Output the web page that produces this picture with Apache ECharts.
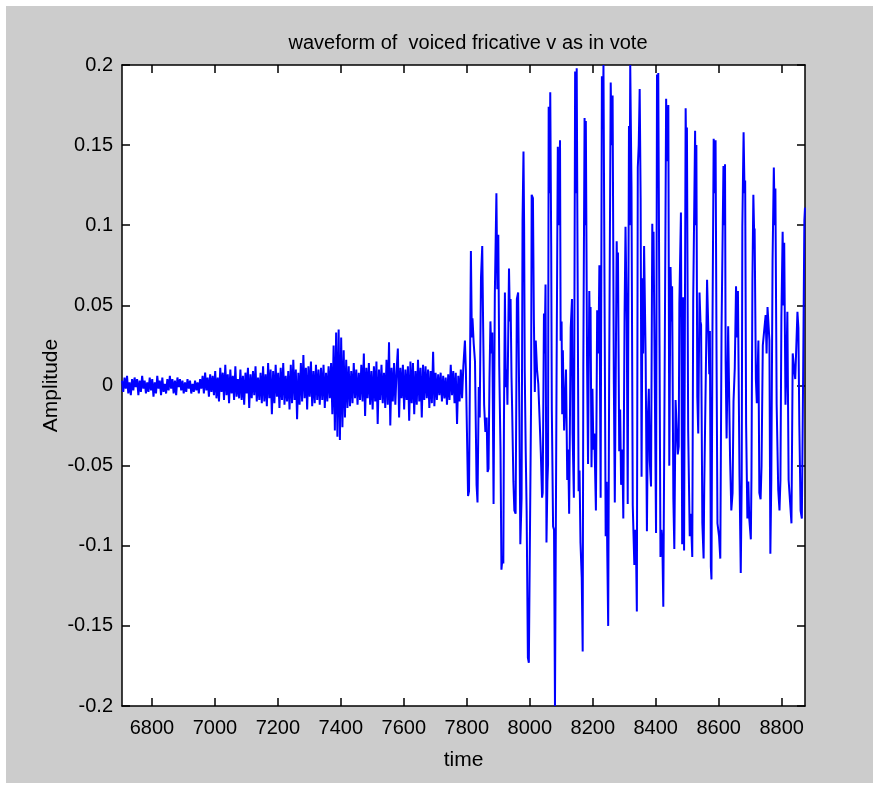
<!DOCTYPE html>
<html>
<head>
<meta charset="utf-8">
<script src="https://cdn.jsdelivr.net/npm/echarts@6/dist/echarts.min.js"></script>
<style>
  html, body { margin: 0; padding: 0; background: #ffffff; }
  #frame { position: absolute; left: 6px; top: 6px; width: 867px; height: 777px; background: #cccccc; }
  #chart { width: 867px; height: 777px; }
</style>
</head>
<body>
<div id="frame"><div id="chart"></div></div>
<script>
// Axis ranges and tick labels
const xRange = [6705, 8874];
const xTicks = [6800, 7000, 7200, 7400, 7600, 7800, 8000, 8200, 8400, 8600, 8800];
const yRange = [-0.2, 0.2];
const yStep = 0.05;

// Unvoiced (fricative noise) part: samples every 4 time units from noiseStart, in thousandths
const noiseStart = 6705;
const noiseStep = 4;
const noiseMilli = [
  3,-4,5,-2,6,-5,2,-6,4,-3,5,-1,4,-6,3,-4,6,-2,3,-5,2,-4,
  5,-3,4,-7,2,-5,6,-2,3,-6,5,-4,1,-5,4,-3,6,-2,4,-5,3,-6,5,-1,4,
  -3,3,-5,2,-4,4,-2,3,-5,1,-4,3,-3,2,-5,4,-2,
  6,-5,8,-3,5,-7,7,-4,6,-6,
  9,-8,5,-10,11,-4,8,-9,13,-6,7,-11,10,-5,6,-9,12,-7,4,-8,
  10,-9,6,-12,8,-5,11,-14,7,-8,9,-6,12,-10,5,-9,8,-11,
  12,-10,7,-13,14,-8,10,-18,9,-11,13,-7,8,-14,11,-9,14,-12,6,-10,9,-15,
  13,-11,16,-9,10,-21,8,-12,14,-10,19,-8,11,-15,12,-7,15,-13,9,-11,13,-9,10,
  -12,11,-9,13,-14,8,-10,12,-8,14,
  -18,25,-28,33,-32,35,-34,30,-26,22,-20,16,-14,
  12,-13,9,-11,14,-8,10,-12,8,-9,
  13,-10,20,-19,11,-8,14,-12,9,-15,12,-10,15,-24,10,-9,13,-11,8,-14,16,-12,27,-25,11,
  -10,14,-12,9,23,-20,11,-8,13,-15,10,-9,12,-22,15,-11,14,-18,9,-12,16,-10,11,-20,13,-9,12,-8,10,-14,9,-11,21,-13,8,
  -9,7,-6,8,-10,6,-8,5,-12,7,-9,13,-6,9,-11,8,-24,6,-10,10,-8,12
];

// Voiced part: turning points of the waveform (time, amplitude)
const voicedTime = [
  7794,7797,7804,7807,7813,7816,7818,7822,7826,7831,7834,7838,7841,7845,7849,7852,7855,7859,7863,7866,
  7869,7872,7875,7878,7881,7885,7889,7894,7897,7900,7903,7907,7910,7913,7916,7918,7921,7924,7927,7929,
  7934,7937,7939,7942,7944,7948,7951,7955,7959,7963,7967,7970,7974,7977,7980,7982,7984,7987,7990,7994,
  7997,8001,8004,8006,8010,8013,8016,8019,8023,8027,8031,8035,8039,8041,8045,8047,8050,8053,8056,8058,
  8060,8063,8065,8068,8070,8074,8077,8080,8083,8085,8089,8092,8096,8098,8101,8103,8105,8109,8112,8115,
  8119,8122,8125,8130,8134,8136,8140,8144,8147,8149,8152,8155,8158,8161,8165,8168,8170,8174,8176,8178,
  8182,8185,8189,8191,8193,8196,8199,8202,8205,8210,8214,8218,8221,8225,8229,8232,8234,8238,8241,8244,
  8246,8249,8252,8257,8260,8263,8267,8270,8276,8278,8280,8284,8287,8290,8294,8297,8301,8304,8308,8311,
  8315,8317,8319,8323,8327,8332,8335,8337,8340,8343,8346,8349,8352,8355,8358,8360,8363,8368,8372,8375,
  8378,8381,8385,8389,8392,8393,8397,8401,8404,8407,8408,8412,8415,8418,8421,8424,8429,8433,8436,8440,
  8443,8447,8450,8452,8456,8459,8463,8467,8470,8473,8475,8480,8484,8487,8490,8495,8498,8499,8503,8508,
  8511,8512,8516,8519,8525,8527,8529,8532,8535,8539,8542,8544,8548,8552,8554,8559,8563,8567,8570,8572,
  8575,8577,8580,8584,8587,8590,8593,8596,8601,8605,8609,8615,8618,8620,8622,8625,8630,8634,8636,8640,
  8644,8647,8651,8655,8658,8661,8666,8670,8673,8675,8679,8682,8684,8687,8691,8694,8697,8702,8704,8707,
  8710,8713,8714,8718,8721,8726,8729,8733,8736,8740,8745,8749,8752,8755,8761,8764,8767,8771,8775,8778,
  8780,8784,8789,8793,8796,8799,8803,8806,8808,8812,8815,8818,8822,8827,8831,8835,8839,8843,8847,8850,
  8853,8856,8860,8864,8868,8872,8874
];
const voicedAmp = [
  0.028,0.010,-0.069,-0.066,0.084,0.030,0.042,0.026,0.015,-0.062,-0.073,-0.001,-0.020,0.067,0.087,0.035,-0.012,-0.029,-0.020,-0.054,
  -0.052,0.004,0.040,0.020,0.033,-0.074,0.057,0.120,0.060,0.094,0.012,-0.040,-0.115,-0.108,-0.111,-0.022,0.058,-0.001,0.010,-0.012,
  0.073,0.040,0.054,0.005,-0.015,-0.060,-0.078,-0.080,0.054,0.058,-0.020,-0.099,-0.070,0.103,0.146,0.100,0.009,-0.040,-0.078,-0.170,
  -0.173,-0.173,-0.013,0.119,0.117,0.041,-0.004,0.028,0.010,0.001,-0.020,-0.042,-0.070,-0.067,0.045,0.020,0.063,-0.098,-0.060,-0.049,
  0.174,0.120,0.183,0.087,-0.015,-0.088,-0.090,-0.200,-0.200,0.004,0.149,0.100,0.153,0.028,0.040,-0.018,0.022,-0.028,-0.010,0.010,
  -0.059,-0.040,-0.080,0.036,0.054,-0.030,-0.070,0.196,0.120,0.198,0.066,-0.066,-0.053,-0.098,-0.120,-0.166,0.012,0.167,0.100,0.165,
  0.012,-0.049,0.059,0.030,0.049,-0.051,-0.002,-0.040,-0.030,-0.078,0.047,0.020,0.075,-0.070,0.193,0.160,0.200,0.033,-0.094,-0.060,
  -0.103,-0.150,0.003,0.189,0.150,0.181,0.001,-0.073,0.090,0.060,0.083,-0.041,-0.015,-0.062,-0.040,-0.083,0.044,0.099,0.040,-0.074,
  0.162,0.100,0.200,0.124,-0.075,-0.112,-0.090,-0.096,-0.141,0.136,0.150,0.185,0.117,-0.057,0.067,0.020,0.087,0.017,-0.091,-0.020,
  -0.002,-0.047,-0.063,0.101,0.060,0.096,0.001,-0.092,0.194,0.150,0.195,0.025,-0.107,-0.090,-0.098,-0.138,0.032,0.179,0.140,0.175,
  -0.050,0.074,0.040,0.062,-0.071,-0.102,-0.009,-0.009,-0.043,-0.038,0.051,0.108,-0.099,0.055,-0.103,0.173,0.120,0.161,-0.028,-0.094,
  -0.080,-0.084,-0.107,0.054,0.159,0.100,0.150,-0.007,-0.030,0.058,0.040,0.038,-0.086,-0.108,-0.064,0.007,0.066,0.035,0.007,0.034,
  -0.113,-0.121,0.030,0.154,0.120,0.153,0.022,-0.086,-0.094,-0.108,0.036,0.137,0.100,0.138,0.015,-0.033,0.037,0.038,-0.045,-0.078,
  -0.067,-0.010,0.011,0.062,0.030,0.059,-0.057,-0.117,-0.059,0.099,0.158,0.120,0.128,-0.024,-0.083,-0.060,-0.083,-0.096,-0.057,0.065,
  0.119,0.090,0.098,0.004,-0.011,0.028,-0.067,-0.071,-0.050,0.025,0.025,0.044,0.020,0.049,0.028,-0.105,-0.059,0.078,0.136,0.100,
  0.123,-0.012,-0.065,-0.078,-0.059,0.042,0.096,0.050,0.089,-0.012,0.012,0.046,-0.059,-0.058,-0.086,0.020,0.011,0.004,0.028,0.046,
  0.036,-0.025,-0.078,-0.083,0.004,0.103,0.111
];

// Build the full waveform as [time, amplitude] pairs
const waveform = [];
noiseMilli.forEach((v, i) => waveform.push([noiseStart + i * noiseStep, v / 1000]));
voicedTime.forEach((t, i) => waveform.push([t, voicedAmp[i]]));

const FONT = "'Liberation Sans', Arial, sans-serif";

const frameAxis = {
  axisLine: { show: true, onZero: false, lineStyle: { color: '#000', width: 1.5 } },
  axisTick: { show: true, inside: true, length: 8, lineStyle: { color: '#000', width: 1.5 } },
  splitLine: { show: false }
};

const chart = echarts.init(document.getElementById('chart'), null, { renderer: 'canvas' });
chart.setOption({
  animation: false,
  backgroundColor: '#cccccc',
  title: {
    text: 'waveform of  voiced fricative v as in vote',
    left: 457, top: 22, textAlign: 'center',
    textStyle: { fontFamily: FONT, fontSize: 20, fontWeight: 'normal', color: '#000' }
  },
  grid: { left: 116, top: 59, right: 68, bottom: 77, show: true, backgroundColor: '#ffffff', borderWidth: 0 },
  xAxis: [
    Object.assign({}, frameAxis, {
      type: 'value', position: 'bottom', min: xRange[0], max: xRange[1],
      name: 'time', nameLocation: 'middle', nameGap: 44, nameMoveOverlap: false,
      nameTextStyle: { fontFamily: FONT, fontSize: 21, color: '#000' },
      axisTick: Object.assign({}, frameAxis.axisTick, { customValues: xTicks }),
      axisLabel: { customValues: xTicks, fontFamily: FONT, fontSize: 20, color: '#000', margin: 12,
                   formatter: v => String(v) }
    }),
    Object.assign({}, frameAxis, {
      type: 'value', position: 'top', min: xRange[0], max: xRange[1],
      axisTick: Object.assign({}, frameAxis.axisTick, { customValues: xTicks }),
      axisLabel: { show: false }
    })
  ],
  yAxis: [
    Object.assign({}, frameAxis, {
      type: 'value', position: 'left', min: yRange[0], max: yRange[1], interval: yStep,
      name: 'Amplitude', nameLocation: 'middle', nameGap: 60, nameMoveOverlap: false,
      nameTextStyle: { fontFamily: FONT, fontSize: 21, color: '#000' },
      axisLabel: {
        fontFamily: FONT, fontSize: 20, color: '#000', margin: 9,
        formatter: v => String(Math.round(v * 100) / 100)
      }
    }),
    Object.assign({}, frameAxis, {
      type: 'value', position: 'right', min: yRange[0], max: yRange[1], interval: yStep,
      axisLabel: { show: false }
    })
  ],
  series: [{
    type: 'line',
    data: waveform,
    showSymbol: false,
    sampling: false,
    clip: true,
    lineStyle: { color: '#0000ff', width: 2 },
    silent: true
  }]
});
</script>
</body>
</html>
